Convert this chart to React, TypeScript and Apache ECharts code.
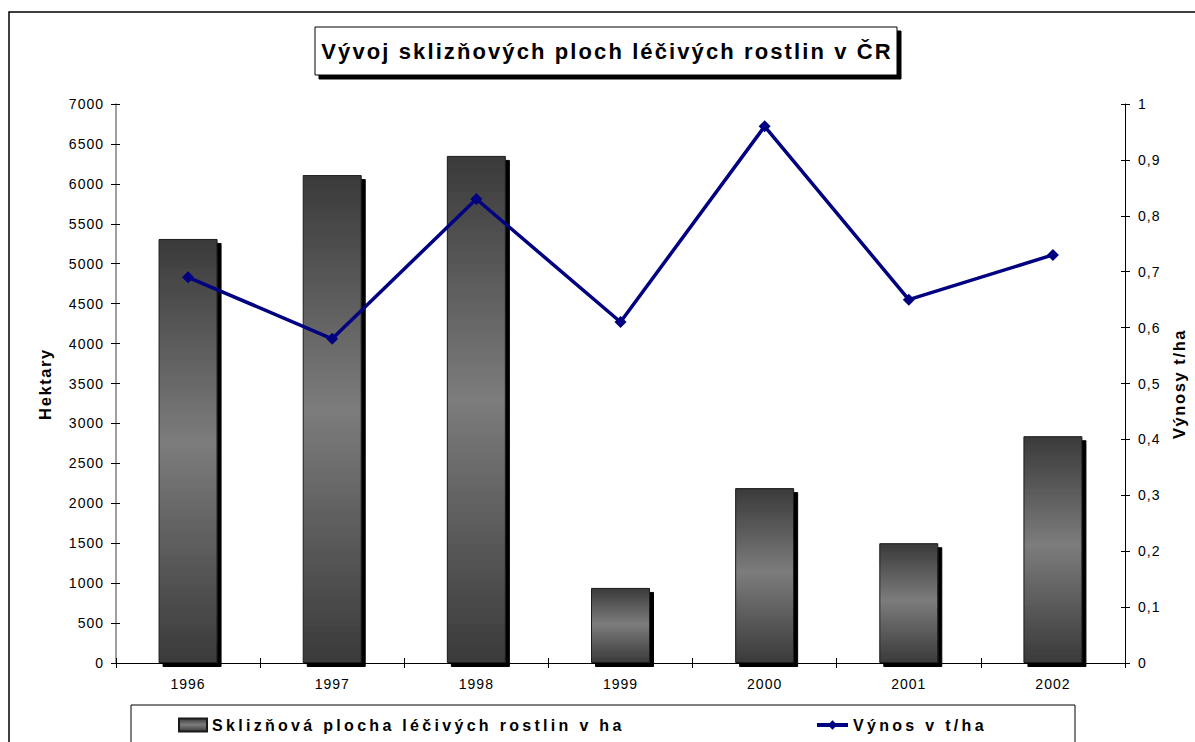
import React, { useEffect, useRef } from "react";
import * as echarts from "echarts";

const years = ["1996", "1997", "1998", "1999", "2000", "2001", "2002"];
const areaHa = [5310, 6110, 6350, 940, 2190, 1500, 2840];
const yieldTHa = [0.69, 0.58, 0.83, 0.61, 0.96, 0.65, 0.73];

const titleText = "Vývoj sklizňových ploch léčivých rostlin v ČR";
const barName = "Sklizňová plocha léčivých rostlin v ha";
const lineName = "Výnos v t/ha";
const leftAxisName = "Hektary";
const rightAxisName = "Výnosy t/ha";

const FONT = "'Liberation Sans', Arial, sans-serif";

export default function App() {
  const ref = useRef<HTMLDivElement>(null);

  useEffect(() => {
    document.body.style.margin = "0";
    const chart = echarts.init(ref.current!, null, { renderer: "svg" });
    const barGrad = new echarts.graphic.LinearGradient(0, 0, 0, 1, [
      { offset: 0, color: "#3a3a3a" },
      { offset: 0.48, color: "#7c7c7c" },
      { offset: 1, color: "#3a3a3a" },
    ]);
    const fmtRight = (v: number) =>
      v === 0 ? "0" : v === 1 ? "1" : v.toFixed(1).replace(".", ",");
    const fmtLeft = (v: number) => String(v);

    const option: any = {
      animation: false,
      backgroundColor: "#fff",
      textStyle: { fontFamily: FONT },
      grid: { left: 116, right: 70, top: 104, bottom: 79 },
      xAxis: [
        {
          type: "category",
          data: years,
          position: "bottom",
          axisLine: { lineStyle: { color: "#000", width: 1 } },
          axisTick: { show: true, length: 5, lineStyle: { color: "#000" } },
          axisLabel: { color: "#000", fontSize: 14, margin: 14, fontFamily: FONT },
          splitLine: { show: false },
        },
        {
          type: "category",
          data: years,
          position: "bottom",
          axisLine: { show: false },
          axisTick: { show: true, inside: true, length: 5, lineStyle: { color: "#000" } },
          axisLabel: { show: false },
          splitLine: { show: false },
        },
      ],
      yAxis: [
        {
          type: "value",
          position: "left",
          min: 0,
          max: 7000,
          interval: 500,
          axisLine: { show: true, lineStyle: { color: "#808080", width: 1.5 } },
          axisTick: { show: true, length: 5, lineStyle: { color: "#000" } },
          axisLabel: { color: "#000", fontSize: 14, margin: 12, fontFamily: FONT, formatter: fmtLeft },
          splitLine: { show: false },
        },
        {
          type: "value",
          position: "right",
          min: 0,
          max: 1,
          interval: 0.1,
          axisLine: { show: true, lineStyle: { color: "#000", width: 1 } },
          axisTick: { show: true, length: 5, lineStyle: { color: "#000" } },
          axisLabel: { color: "#000", fontSize: 14, margin: 13, fontFamily: FONT, formatter: fmtRight },
          splitLine: { show: false },
        },
        {
          type: "value",
          position: "left",
          min: 0,
          max: 7000,
          interval: 500,
          axisLine: { show: false },
          axisTick: { show: true, inside: true, length: 4, lineStyle: { color: "#000" } },
          axisLabel: { show: false },
          splitLine: { show: false },
        },
        {
          type: "value",
          position: "right",
          min: 0,
          max: 1,
          interval: 0.1,
          axisLine: { show: false },
          axisTick: { show: true, inside: true, length: 4, lineStyle: { color: "#000" } },
          axisLabel: { show: false },
          splitLine: { show: false },
        },
      ],
      legend: [
        {
          data: [{ name: barName, icon: "rect" }],
          left: 173,
          top: 712,
          itemWidth: 28,
          itemHeight: 13,
          itemGap: 0,
          textStyle: { color: "#000", fontSize: 16, fontWeight: "bold", fontFamily: FONT },
        },
        {
          data: [lineName],
          left: 810,
          top: 712,
          itemWidth: 31,
          itemHeight: 12,
          lineStyle: { width: 4, color: "#000080" },
          textStyle: { color: "#000", fontSize: 16, fontWeight: "bold", fontFamily: FONT },
        },
      ],
      graphic: [
        {
          type: "rect",
          silent: true,
          z: 0,
          shape: { x: 9, y: 12, width: 1400, height: 900 },
          style: { fill: "none", stroke: "#000", lineWidth: 1.5 },
        },
        {
          type: "rect",
          silent: true,
          z: 0,
          shape: { x: 131, y: 705, width: 944, height: 80 },
          style: { fill: "none", stroke: "#000", lineWidth: 1 },
        },
        {
          type: "rect",
          silent: true,
          z: 1,
          shape: { x: 315, y: 27, width: 582, height: 48 },
          style: {
            fill: "#fff",
            stroke: "#000",
            lineWidth: 1,
            shadowColor: "#000",
            shadowOffsetX: 4,
            shadowOffsetY: 4,
            shadowBlur: 0,
          },
        },
        {
          type: "text",
          silent: true,
          z: 2,
          x: 607,
          y: 51,
          style: {
            text: titleText,
            fill: "#000",
            font: `bold 22px ${FONT}`,
            textAlign: "center",
            textVerticalAlign: "middle",
          },
        },
        {
          type: "text",
          silent: true,
          z: 2,
          x: 45,
          y: 384,
          rotation: Math.PI / 2,
          style: {
            text: leftAxisName,
            fill: "#000",
            font: `bold 16.5px ${FONT}`,
            textAlign: "center",
            textVerticalAlign: "middle",
          },
        },
        {
          type: "text",
          silent: true,
          z: 2,
          x: 1179,
          y: 384,
          rotation: Math.PI / 2,
          style: {
            text: rightAxisName,
            fill: "#000",
            font: `bold 16.5px ${FONT}`,
            textAlign: "center",
            textVerticalAlign: "middle",
          },
        },
      ],
      series: [
        {
          name: barName,
          type: "bar",
          xAxisIndex: 0,
          yAxisIndex: 0,
          data: areaHa,
          barWidth: 59,
          itemStyle: {
            color: barGrad,
            borderColor: "#1a1a1a",
            borderWidth: 1,
            shadowColor: "#000",
            shadowOffsetX: 4,
            shadowOffsetY: 4,
            shadowBlur: 0,
          },
          z: 2,
        },
        {
          name: lineName,
          type: "line",
          xAxisIndex: 0,
          yAxisIndex: 1,
          data: yieldTHa,
          symbol: "diamond",
          symbolSize: 12,
          lineStyle: { color: "#000080", width: 3.5 },
          itemStyle: { color: "#000080" },
          z: 5,
        },
      ],
    };
    chart.setOption(option);
    return () => chart.dispose();
  }, []);

  return (
    <>
      <style>{`
        .chartbox svg text { letter-spacing: 1px; }
        .chartbox svg text[style*="22px"] { letter-spacing: 2.1px; }
        .chartbox svg text[style*="16px"] { letter-spacing: 3.3px; }
        .chartbox svg text[style*="16.5px"] { letter-spacing: 1.6px; }
      `}</style>
      <div
        className="chartbox"
        ref={ref}
        style={{ position: "absolute", left: 0, top: 0, width: 1195, height: 742 }}
      />
    </>
  );
}
